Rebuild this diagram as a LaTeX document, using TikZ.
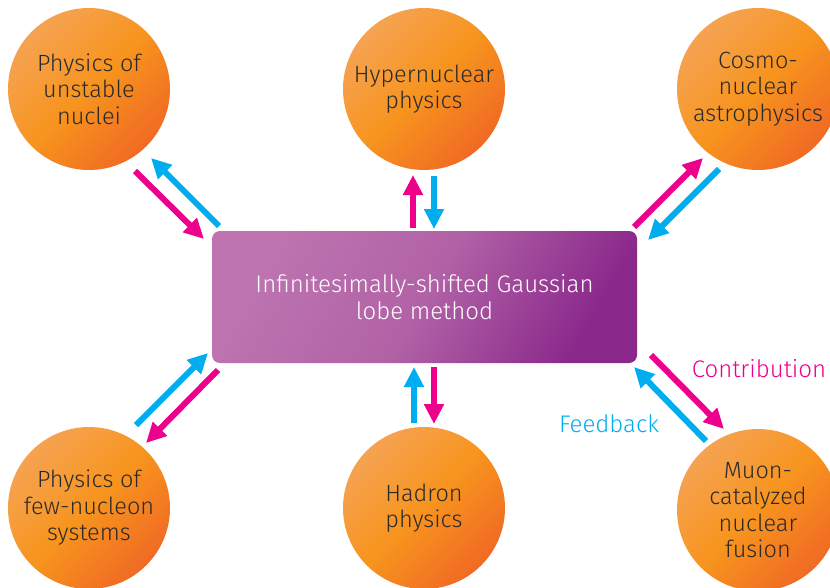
\documentclass[tikz,border=0pt]{standalone}
\usepackage{fontspec}
\setmainfont{Fira Sans Light}
\usetikzlibrary{arrows.meta}
\definecolor{orLight}{HTML}{F5A352}
\definecolor{orMid}{HTML}{F7941E}
\definecolor{orDark}{HTML}{F06A24}
\definecolor{puLight}{HTML}{BD74B0}
\definecolor{puMid}{HTML}{B162A6}
\definecolor{puDark}{HTML}{8A288B}
\definecolor{mag}{HTML}{EC008C}
\definecolor{cya}{HTML}{00AEEF}
\definecolor{txt}{HTML}{2A2A2A}
\tikzset{
  topic/.style={circle, minimum size=162pt, inner sep=0pt, align=center,
    top color=orLight, bottom color=orDark, middle color=orMid, shading angle=45,
    text=txt, font=\fontsize{23.5}{26.5}\selectfont},
  core/.style={rounded corners=8pt, minimum width=425pt, minimum height=132pt, align=center,
    top color=puLight, bottom color=puDark, middle color=puMid, shading angle=60,
    text=white, font=\fontsize{24}{26.5}\selectfont},
  contrib/.style={draw=mag, line width=6pt, -{Triangle[length=20pt,width=19pt]}},
  feedb/.style={draw=cya, line width=6pt, -{Triangle[length=20pt,width=19pt]}},
  lbl/.style={font=\fontsize{24}{27}\selectfont}
}
\begin{document}
\begin{tikzpicture}[x=1pt,y=-1pt]
\useasboundingbox (0,0) rectangle (830,587);
\clip (0,0) rectangle (830,587);
\node[core] (core) at (424.5,297) {Infinitesimally-shifted Gaussian\\lobe method};
\node[topic] (tl) at (89,89) {Physics of\\unstable\\nuclei};
\node[topic] (tm) at (424,89) {Hypernuclear\\physics};
\node[topic] (tr) at (758,89) {Cosmo-\\nuclear\\astrophysics};
\node[topic] (bl) at (89,508) {Physics of\\few-nucleon\\systems};
\node[topic] (bm) at (424,508) {Hadron\\physics};
\node[topic] (br) at (758,510) {Muon-\\catalyzed\\nuclear\\fusion};
% arrow end points
\coordinate (a1s) at (135,171); \coordinate (a1e) at (204,239);
\coordinate (b1s) at (219,226); \coordinate (b1e) at (151,158);
\coordinate (a2s) at (413,228); \coordinate (a2e) at (413,175);
\coordinate (b2s) at (434,176); \coordinate (b2e) at (434,229);
\coordinate (a3s) at (634,227); \coordinate (a3e) at (703,158);
\coordinate (b3s) at (719,169); \coordinate (b3e) at (648,240);
\coordinate (a4s) at (651,355); \coordinate (a4e) at (724,429);
\coordinate (b4s) at (706,441); \coordinate (b4e) at (634,367);
\coordinate (a5s) at (434,367); \coordinate (a5e) at (434,424);
\coordinate (b5s) at (414,423); \coordinate (b5e) at (414,367);
\coordinate (a6s) at (218,370); \coordinate (a6e) at (146,443);
\coordinate (b6s) at (136,425); \coordinate (b6e) at (208,353);
\draw[contrib] (a1s) -- (a1e);
\draw[feedb] (b1s) -- (b1e);
\draw[contrib] (a2s) -- (a2e);
\draw[feedb] (b2s) -- (b2e);
\draw[contrib] (a3s) -- (a3e);
\draw[feedb] (b3s) -- (b3e);
\draw[contrib] (a4s) -- (a4e);
\draw[feedb] (b4s) -- (b4e);
\draw[contrib] (a5s) -- (a5e);
\draw[feedb] (b5s) -- (b5e);
\draw[contrib] (a6s) -- (a6e);
\draw[feedb] (b6s) -- (b6e);
\node[lbl, text=mag] (lc) at (759,369) {Contribution};
\node[lbl, text=cya] (lf) at (609,424) {Feedback};
\end{tikzpicture}
\end{document}
